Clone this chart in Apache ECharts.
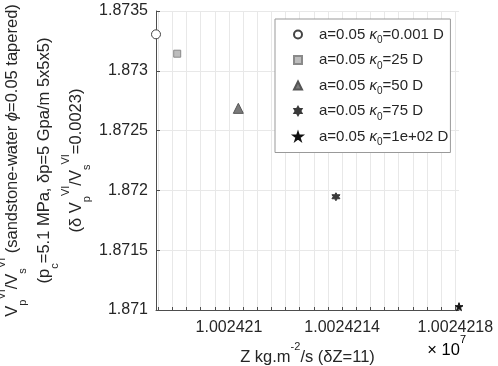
<!DOCTYPE html>
<html>
<head>
  <meta charset="UTF-8" />
  <title></title>
  <style type="text/css">
    * {
      margin: 0;
      padding: 0;
    }
    #main {
      width: 498px;
      height: 366px;
      background-color: #fff;
    }
  </style>
</head>
<body>
  <div id="main"></div>
</body>
<script src="https://cdn.jsdelivr.net/npm/echarts@6/dist/echarts.min.js"></script>
<script type="text/javascript">
  // 数据
  let kappaLabels = ['0.001', '25', '50', '75', '1e+02']
  let zValues = [10024207.42, 10024208.17, 10024210.33, 10024213.78, 10024218.13]
  let ratioValues = [1.873305, 1.873143, 1.872686, 1.871947, 1.871028]
  let xTickValues = [10024210, 10024214, 10024218]
  let xTickLabels = ['1.002421', '1.0024214', '1.0024218']
  let yMin = 1.871
  let yMax = 1.8735
  let yStep = 0.0005

  let ff = 'Liberation Sans'
  let txt = '#262626'

  // 小刻度 每0.5
  let xMinorTicks = []
  for (let i = 15; i <= 36; i++) {
    xMinorTicks.push(10024200 + i * 0.5)
  }

  // 标记样式
  let hexagram = 'path://M50,0L64.43,25L93.3,25L78.87,50L93.3,75L64.43,75L50,100L35.57,75L6.7,75L21.13,50L6.7,25L35.57,25Z'
  let star5 = 'path://M50,0L61.23,34.55L97.55,34.55L68.16,55.9L79.39,90.45L50,69.1L20.61,90.45L31.84,55.9L2.45,34.55L38.77,34.55Z'
  let markers = [
    { symbol: 'circle', size: 9, color: '#ffffff', border: '#444444' },
    { symbol: 'rect', size: 7, color: '#bdbdbd', border: '#8a8a8a' },
    { symbol: 'triangle', size: 10, color: '#7a7a7a', border: '#555555' },
    { symbol: hexagram, size: 8, color: '#3a3a3a', border: '#3a3a3a' },
    { symbol: star5, size: 8, color: '#111111', border: '#111111' }
  ]

  let rich = {
    t: { fontSize: 16.5, lineHeight: 32, color: txt, fontFamily: ff },
    i: { fontSize: 16.5, lineHeight: 32, color: txt, fontFamily: ff, fontStyle: 'italic' },
    sup: { fontSize: 11, lineHeight: 18, verticalAlign: 'top', color: txt, fontFamily: ff },
    sub: { fontSize: 11, lineHeight: 12, verticalAlign: 'bottom', color: txt, fontFamily: ff }
  }

  let legendRich = {
    t: { fontSize: 15, lineHeight: 22, color: txt, fontFamily: ff },
    k: { fontSize: 15, lineHeight: 22, color: txt, fontFamily: ff, fontStyle: 'italic' },
    sub: { fontSize: 10, lineHeight: 12, verticalAlign: 'bottom', color: txt, fontFamily: ff }
  }

  let yName = '{t|V}{sub|p}{sup|VI}{t|/V}{sub|s}{sup|VI}{t| (sandstone-water }{i|ϕ}{t|=0.05 tapered)}\n' +
    '{t|(p}{sub|c}{t|=5.1 MPa, δp=5 Gpa/m 5x5x5)}\n' +
    '{t|(δ V}{sub|p}{sup|VI}{t|/V}{sub|s}{sup|VI}{t|=0.0023)}'

  let seriesNames = kappaLabels.map(k => 'a=0.05 κ0=' + k + ' D')

  let series = seriesNames.map((name, i) => {
    return {
      name: name,
      type: 'scatter',
      clip: false,
      symbol: markers[i].symbol,
      symbolSize: markers[i].size,
      itemStyle: {
        color: markers[i].color,
        borderColor: markers[i].border,
        borderWidth: 1,
        opacity: 1
      },
      data: [[zValues[i], ratioValues[i]]]
    }
  })

  let myChart = echarts.init(document.getElementById('main'))
  let option = {
    animation: false,
    grid: {
      left: 156,
      right: 39,
      top: 11,
      bottom: 56,
      containLabel: false,
      outerBoundsMode: 'none'
    },
    legend: {
      orient: 'vertical',
      left: 275,
      top: 19,
      padding: [8, 2, 5, 18],
      itemWidth: 8,
      itemHeight: 8,
      itemGap: 7,
      borderColor: '#999',
      borderWidth: 1,
      backgroundColor: '#fff',
      data: seriesNames,
      formatter: name => {
        let k = kappaLabels[seriesNames.indexOf(name)]
        return '{t|a=0.05 }{k|κ}{sub|0}{t|=' + k + ' D}'
      },
      textStyle: {
        padding: [0, 0, 0, 12],
        rich: legendRich
      }
    },
    xAxis: {
      type: 'value',
      min: 'dataMin',
      max: 'dataMax',
      name: '{t|Z kg.m}{sup|-2}{t|/s (δZ=11)}',
      nameLocation: 'middle',
      nameGap: 31,
      nameMoveOverlap: false,
      nameTextStyle: { rich: rich },
      axisLine: { show: true, lineStyle: { color: '#4d4d4d', width: 1 } },
      axisTick: {
        show: true,
        inside: true,
        length: 3,
        customValues: xMinorTicks,
        lineStyle: { color: '#4d4d4d' }
      },
      axisLabel: {
        customValues: xTickValues,
        margin: 10,
        fontSize: 16,
        fontFamily: ff,
        color: txt,
        formatter: v => {
          let idx = xTickValues.indexOf(Math.round(v))
          return idx >= 0 ? xTickLabels[idx] : ''
        }
      },
      splitLine: { show: true, lineStyle: { color: '#e8e8e8', width: 1 } }
    },
    yAxis: {
      type: 'value',
      min: yMin,
      max: yMax,
      interval: yStep,
      name: yName,
      nameLocation: 'middle',
      nameRotate: 90,
      nameGap: 64,
      nameMoveOverlap: false,
      nameTextStyle: { rich: rich },
      axisLine: { show: true, lineStyle: { color: '#4d4d4d', width: 1 } },
      axisTick: { show: true, inside: true, length: 4, lineStyle: { color: '#4d4d4d' } },
      axisLabel: {
        margin: 8,
        fontSize: 16,
        fontFamily: ff,
        color: txt,
        formatter: v => +v.toFixed(4) + ''
      },
      splitLine: { show: true, lineStyle: { color: '#e8e8e8', width: 1 } }
    },
    graphic: [{
      type: 'text',
      x: 466,
      y: 350,
      style: {
        text: '{t|× 10}{sup|7}',
        align: 'right',
        verticalAlign: 'middle',
        rich: rich
      }
    }],
    series: series
  }
  myChart.setOption(option)
</script>
</html>
